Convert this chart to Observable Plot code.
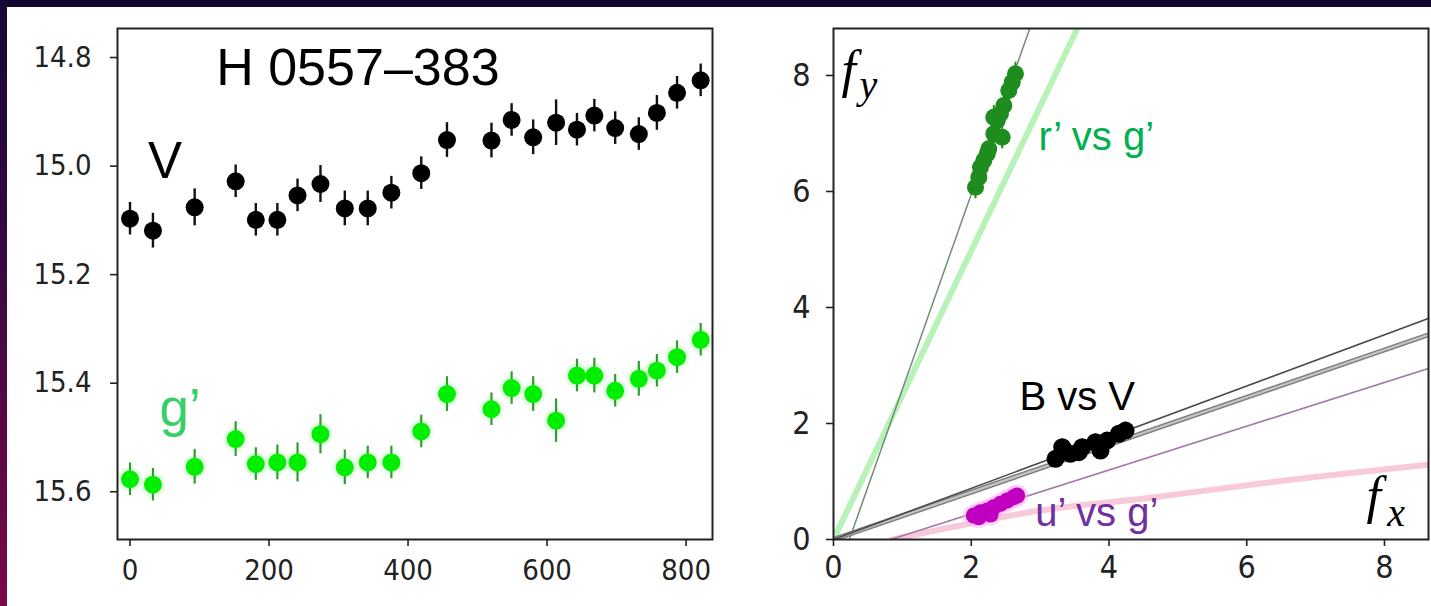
<!DOCTYPE html>
<html>
<head>
<meta charset="utf-8">
<script src="https://cdn.jsdelivr.net/npm/d3@7"></script>
<script src="https://cdn.jsdelivr.net/npm/@observablehq/plot@0.6"></script>
<style>
  html, body { margin: 0; padding: 0; background: #12072f; }
  #wrap { position: relative; width: 1431px; height: 606px; background: #12072f; overflow: hidden; }
  #strip { position: absolute; left: 0; top: 0; width: 7px; height: 606px;
           background: linear-gradient(to bottom, #160836 0%, #3a0840 45%, #7c0848 100%); }
  #paper { position: absolute; left: 7px; top: 7px; width: 1424px; height: 599px; background: #fff; }
  #left { position: absolute; left: 7px; top: 7px; }
  #right { position: absolute; left: 722px; top: 7px; }
  svg [aria-label$="tick"] { stroke-width: 1.6px; }
</style>
</head>
<body>
<div id="wrap">
  <div id="strip"></div>
  <div id="paper"></div>
  <div id="left"></div>
  <div id="right"></div>
</div>
<script>
// ---------- Left panel data: light curves ----------
const times = [0, 33, 93, 152, 181, 212, 241, 274, 309, 342, 376, 419, 456, 520, 549, 580, 613, 643, 668, 698, 732, 758, 787, 821];
const vMag = [15.097, 15.119, 15.076, 15.028, 15.099, 15.099, 15.054, 15.033, 15.078, 15.078, 15.049, 15.013, 14.952, 14.953, 14.915, 14.947, 14.920, 14.933, 14.907, 14.930, 14.941, 14.902, 14.865, 14.842];
const vErr = [0.030, 0.032, 0.034, 0.030, 0.030, 0.030, 0.030, 0.034, 0.032, 0.032, 0.030, 0.030, 0.032, 0.032, 0.030, 0.032, 0.042, 0.030, 0.030, 0.030, 0.030, 0.032, 0.030, 0.030];
const gMag = [15.577, 15.587, 15.554, 15.503, 15.549, 15.546, 15.546, 15.494, 15.555, 15.546, 15.546, 15.489, 15.420, 15.448, 15.409, 15.420, 15.469, 15.386, 15.386, 15.414, 15.392, 15.377, 15.352, 15.320];
const gErr = [0.030, 0.030, 0.032, 0.032, 0.030, 0.032, 0.036, 0.036, 0.032, 0.030, 0.030, 0.030, 0.032, 0.030, 0.030, 0.032, 0.040, 0.030, 0.032, 0.030, 0.032, 0.030, 0.030, 0.030];
const leftTicksX = [0, 200, 400, 600, 800];
const leftTicksY = [14.8, 15.0, 15.2, 15.4, 15.6];

// ---------- Right panel data: flux-flux ----------
const rVsG_x = [2.062, 2.110, 2.134, 2.182, 2.232, 2.255, 2.327, 2.377, 2.425, 2.327, 2.473, 2.449, 2.545, 2.595, 2.642];
const rVsG_y = [6.074, 6.247, 6.419, 6.534, 6.650, 6.736, 6.995, 7.224, 7.340, 7.281, 7.483, 6.936, 7.741, 7.884, 8.029];
const bVsV_x = [3.223, 3.321, 3.441, 3.562, 3.611, 3.804, 3.877, 3.974, 4.142, 4.240];
const bVsV_y = [1.391, 1.591, 1.478, 1.505, 1.591, 1.678, 1.534, 1.707, 1.822, 1.879];
const uVsG_x = [2.037, 2.134, 2.232, 2.327, 2.425, 2.522, 2.618, 2.667, 2.110, 2.280];
const uVsG_y = [0.414, 0.471, 0.500, 0.557, 0.616, 0.672, 0.729, 0.759, 0.384, 0.431];
// fitted lines (end points in flux units)
const rFitThin = [{x1: 0.23, y1: 0, x2: 2.85, y2: 8.81}];
const rFitBand = [{x1: 0.0, y1: 0, x2: 3.54, y2: 8.81}];
const bFitThin = [{x1: 0.0, y1: 0, x2: 8.64, y2: 3.81}];
const bFitBand = [{x1: 0.0, y1: 0, x2: 8.64, y2: 3.53}];
const uFitThin = [{x1: 0.83, y1: 0, x2: 8.64, y2: 2.95}];
const uCurveX = [0.85, 2.0, 3.0, 4.6, 6.5, 8.64];
const uCurveY = [0.0, 0.28, 0.50, 0.72, 1.01, 1.29];
const rightTicks = [0, 2, 4, 6, 8];

const zip = (xs, ys, extra) => xs.map((x, i) => Object.assign({x, y: ys[i]}, extra ? extra(i) : {}));
const vData = zip(times, vMag, i => ({e: vErr[i]}));
const gData = zip(times, gMag, i => ({e: gErr[i]}));
const rData = zip(rVsG_x, rVsG_y);
const bData = zip(bVsV_x, bVsV_y);
const uData = zip(uVsG_x, uVsG_y);
const uCurve = zip(uCurveX, uCurveY);

const tickFont = '"DejaVu Sans Condensed", "DejaVu Sans", sans-serif';
const labFont = '"Liberation Sans", Arial, sans-serif';
const serif = '"Liberation Serif", "Times New Roman", serif';

const left = Plot.plot({
  width: 715, height: 599,
  marginLeft: 110, marginRight: 10, marginTop: 21, marginBottom: 67,
  style: {fontFamily: tickFont, fontSize: "29px", color: "#222", background: "transparent", fontStretch: "condensed"},
  x: {domain: [-18, 838], ticks: leftTicksX, tickSize: 7, tickPadding: 13, label: null, tickFormat: d3.format("d")},
  y: {domain: [14.7465, 15.688], reverse: true, ticks: leftTicksY, tickSize: 7, tickPadding: 19, label: null, tickFormat: d3.format(".1f")},
  marks: [
    Plot.dot(gData, {x: "x", y: "y", r: 12.5, fill: "#c8ffc8", fillOpacity: 0.45}),
    Plot.ruleX(gData, {x: "x", y1: d => d.y - d.e, y2: d => d.y + d.e, stroke: "#2f9e2f", strokeWidth: 2.2}),
    Plot.dot(gData, {x: "x", y: "y", r: 9, fill: "#00ee00"}),
    Plot.ruleX(vData, {x: "x", y1: d => d.y - d.e, y2: d => d.y + d.e, stroke: "#111", strokeWidth: 2.4}),
    Plot.dot(vData, {x: "x", y: "y", r: 9, fill: "#000"}),
    Plot.text(["H 0557\u2013383"], {x: 124, y: 14.7834, text: d => d, textAnchor: "start", lineAnchor: "top", fontSize: 52, fontFamily: labFont, fill: "#000"}),
    Plot.text(["V"], {x: 25.8, y: 14.955, text: d => d, textAnchor: "start", lineAnchor: "top", fontSize: 51, fontFamily: labFont, fill: "#000"}),
    Plot.text(["g\u2019"], {x: 42.3, y: 15.410, text: d => d, textAnchor: "start", lineAnchor: "top", fontSize: 53, fontFamily: labFont, fill: "#36d066"}),
    Plot.frame({stroke: "#222", strokeWidth: 2})
  ]
});
document.getElementById("left").append(left);

const right = Plot.plot({
  width: 709, height: 599,
  marginLeft: 111, marginRight: 3, marginTop: 21, marginBottom: 67,
  style: {fontFamily: tickFont, fontSize: "32px", color: "#222", background: "transparent", fontStretch: "condensed"},
  x: {domain: [0, 8.639], ticks: rightTicks, tickSize: 7, tickPadding: 9, label: null, tickFormat: d3.format("d")},
  y: {domain: [0, 8.81], ticks: rightTicks, tickSize: 7, tickPadding: 16, label: null, tickFormat: d3.format("d")},
  marks: [
    Plot.link(rFitBand, {x1: "x1", y1: "y1", x2: "x2", y2: "y2", stroke: "#9aec9a", strokeWidth: 6, strokeOpacity: 0.7, clip: true}),
    Plot.link(rFitThin, {x1: "x1", y1: "y1", x2: "x2", y2: "y2", stroke: "#6f8f70", strokeWidth: 1.5, clip: true}),
    Plot.line(uCurve, {x: "x", y: "y", curve: "monotone-x", stroke: "#f2a5bf", strokeWidth: 6, strokeOpacity: 0.6, clip: true}),
    Plot.link(uFitThin, {x1: "x1", y1: "y1", x2: "x2", y2: "y2", stroke: "#a27aa8", strokeWidth: 1.6, clip: true}),
    Plot.link(bFitBand, {x1: "x1", y1: "y1", x2: "x2", y2: "y2", stroke: "#7d7d7d", strokeWidth: 5, clip: true}),
    Plot.link(bFitBand, {x1: "x1", y1: "y1", x2: "x2", y2: "y2", stroke: "#c4c4c4", strokeWidth: 2.2, clip: true}),
    Plot.link(bFitThin, {x1: "x1", y1: "y1", x2: "x2", y2: "y2", stroke: "#4a4a4a", strokeWidth: 1.6, clip: true}),
    Plot.dot(uData, {x: "x", y: "y", r: 11, fill: "#ffb0f0", fillOpacity: 0.5}),
    Plot.dot(uData, {x: "x", y: "y", r: 8, fill: "#c000c0"}),
    Plot.ruleX(rData, {x: "x", y1: d => d.y - 0.2, y2: d => d.y + 0.2, stroke: "#1e8c1e", strokeWidth: 2}),
    Plot.dot(rData, {x: "x", y: "y", r: 8.5, fill: "#1e8c1e"}),
    Plot.ruleX(bData, {x: "x", y1: d => d.y - 0.14, y2: d => d.y + 0.14, stroke: "#000", strokeWidth: 2}),
    Plot.dot(bData, {x: "x", y: "y", r: 9, fill: "#000"}),
    Plot.text(["r\u2019 vs g\u2019"], {x: 2.976, y: 7.2, text: d => d, textAnchor: "start", lineAnchor: "top", fontSize: 40, fontFamily: labFont, fill: "#00b050"}),
    Plot.text(["B vs V"], {x: 2.70, y: 2.716, text: d => d, textAnchor: "start", lineAnchor: "top", fontSize: 40, fontFamily: labFont, fill: "#000"}),
    Plot.text(["u\u2019 vs g\u2019"], {x: 2.93, y: 0.724, text: d => d, textAnchor: "start", lineAnchor: "top", fontSize: 40, fontFamily: labFont, fill: "#7030a0"}),
    Plot.text(["f"], {x: 0.116, y: 8.43, text: d => d, textAnchor: "start", lineAnchor: "top", fontSize: 52, fontFamily: serif, fontStyle: "italic", fill: "#000"}),
    Plot.text(["y"], {x: 0.377, y: 8.10, text: d => d, textAnchor: "start", lineAnchor: "top", fontSize: 40, fontFamily: serif, fontStyle: "italic", fill: "#000"}),
    Plot.text(["f"], {x: 7.74, y: 1.086, text: d => d, textAnchor: "start", lineAnchor: "top", fontSize: 52, fontFamily: serif, fontStyle: "italic", fill: "#000"}),
    Plot.text(["x"], {x: 8.04, y: 0.724, text: d => d, textAnchor: "start", lineAnchor: "top", fontSize: 40, fontFamily: serif, fontStyle: "italic", fill: "#000"}),
    Plot.frame({stroke: "#222", strokeWidth: 2})
  ]
});
document.getElementById("right").append(right);
</script>
</body>
</html>
